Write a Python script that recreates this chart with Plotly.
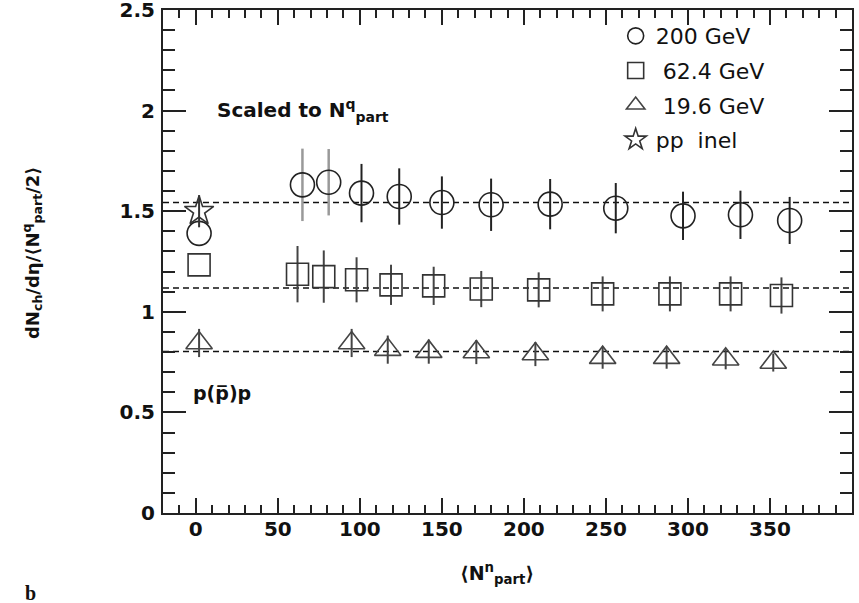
import plotly.graph_objects as go

# ---------------- data ----------------
x_200 = [2, 65, 81, 101, 124, 150, 180, 216, 256, 297, 332, 362]
y_200 = [1.39, 1.631, 1.644, 1.59, 1.573, 1.543, 1.532, 1.535, 1.515, 1.477, 1.482, 1.454]
e_200 = [0.0, 0.18, 0.165, 0.145, 0.14, 0.13, 0.13, 0.125, 0.125, 0.12, 0.12, 0.117]

x_624 = [2, 62, 78, 98, 119, 145, 174, 209, 248, 289, 326, 357]
y_624 = [1.233, 1.187, 1.175, 1.159, 1.134, 1.129, 1.113, 1.109, 1.089, 1.089, 1.089, 1.081]
e_624 = [0.0, 0.14, 0.13, 0.112, 0.10, 0.095, 0.09, 0.087, 0.087, 0.087, 0.087, 0.09]

x_196 = [2, 95, 117, 142, 171, 207, 248, 287, 323, 352]
y_196 = [0.845, 0.845, 0.812, 0.802, 0.80, 0.79, 0.772, 0.772, 0.764, 0.748]
e_196 = [0.07, 0.07, 0.07, 0.06, 0.06, 0.06, 0.055, 0.055, 0.05, 0.045]

x_pp = [2]
y_pp = [1.50]
e_pp = [0.08]

ref_levels = [1.543, 1.118, 0.803]

x_ticks = [0, 50, 100, 150, 200, 250, 300, 350]
y_ticks = [0, 0.5, 1, 1.5, 2, 2.5]
y_ticktext = ["0", "0.5", "1", "1.5", "2", "2.5"]

# ---------------- style ----------------
FONT = "DejaVu Sans"
dark = "#222222"
X_RANGE = [-20, 400]
Y_RANGE = [0, 2.5]

fig = go.Figure()

# reference dashed lines
for lv in ref_levels:
    fig.add_shape(type="line", xref="paper", x0=0, x1=1, yref="y", y0=lv, y1=lv,
                  line=dict(color="#111111", width=1.5, dash="6px,4px"), layer="below")


def add_errors(x, y, e, color, thick=2):
    fig.add_trace(go.Scatter(
        x=x, y=y, mode="markers", marker=dict(size=1, opacity=0),
        error_y=dict(type="data", array=e, symmetric=True, color=color,
                     thickness=thick, width=0),
        showlegend=False, hoverinfo="skip"))


def add_markers(x, y, name, symbol, size, color):
    fig.add_trace(go.Scatter(
        x=x, y=y, mode="markers", name=name, legendgroup=name,
        marker=dict(symbol=symbol, size=size, color=color,
                    line=dict(color=color, width=1.6))))


# 200 GeV: first two error bars lighter grey
add_errors(x_200[1:3], y_200[1:3], e_200[1:3], "#999999", 2.5)
add_errors(x_200[3:], y_200[3:], e_200[3:], dark)
add_markers(x_200, y_200, "200 GeV", "circle-open", 24, dark)

add_errors(x_624, y_624, e_624, "#444444")
add_markers(x_624, y_624, "\u00a062.4 GeV", "square-open", 22, "#333333")

add_errors(x_196, y_196, e_196, "#444444")
add_markers(x_196, y_196, "\u00a019.6 GeV", "triangle-up-open", 23, "#444444")

add_errors(x_pp, y_pp, e_pp, "#333333")
add_markers(x_pp, y_pp, "pp\u00a0\u00a0inel", "star-open", 22, "#333333")

# invisible trace hosting the mirrored (top / right) axes
fig.add_trace(go.Scatter(x=[X_RANGE[0]], y=[Y_RANGE[0]], xaxis="x2", yaxis="y2",
                         mode="markers", marker=dict(size=1, opacity=0),
                         showlegend=False, hoverinfo="skip"))

# ---------------- annotations ----------------
annots = [
    dict(text="<b>Scaled to N<sup>q</sup><sub>part</sub></b>", x=0.0755, y=0.80,
         xanchor="left", yanchor="middle", font=dict(size=20, family=FONT, color="#111")),
    dict(text="<b>p(p\u0305)p</b>", x=0.040, y=0.238,
         xanchor="left", yanchor="middle", font=dict(size=19, family=FONT, color="#111")),
    dict(text="<b>b</b>", x=-0.193, y=-0.160, xanchor="center", yanchor="middle",
         font=dict(size=20, family="Liberation Serif", color="#111")),
    dict(text="<b>\u27e8N<sup>n</sup><sub>part</sub>\u27e9</b>", x=0.485, y=-0.121,
         xanchor="center", yanchor="middle", font=dict(size=19, family=FONT, color="#111")),
    dict(text="<b>dN<sub>ch</sub>/d\u03b7/\u27e8N<sup>q</sup><sub>part</sub>/2\u27e9</b>",
         x=-0.19, y=0.517, xanchor="center", yanchor="middle", textangle=-90,
         font=dict(size=18, family=FONT, color="#111")),
]
for a in annots:
    a.update(xref="paper", yref="paper", showarrow=False)

tickfont = dict(size=20, family=FONT, weight="bold", color="#111")
common = dict(ticks="inside", tickwidth=2, tickcolor="#222", showline=True,
              linecolor="#222", linewidth=2, mirror=False, showgrid=False, zeroline=False,
              automargin=False)

fig.update_layout(
    width=859, height=603,
    margin=dict(l=163, r=7, t=10, b=90, autoexpand=False),
    paper_bgcolor="white", plot_bgcolor="white",
    font=dict(family=FONT, color="#111"),
    annotations=annots,
    showlegend=True,
    legend=dict(x=0.657, y=0.99, xanchor="left", yanchor="top",
                bgcolor="rgba(0,0,0,0)", borderwidth=0,
                font=dict(size=22, family=FONT, color="#111"),
                tracegroupgap=3, itemsizing="trace"),
    xaxis=dict(range=X_RANGE, tickvals=x_ticks, ticklen=15, tickfont=tickfont,
               ticklabelstandoff=-3, ticklabeloverflow="allow",
               minor=dict(dtick=10, tick0=0, ticks="inside", ticklen=8, tickwidth=1.5,
                          tickcolor="#222", showgrid=False), **common),
    yaxis=dict(range=Y_RANGE, tickvals=y_ticks, ticktext=y_ticktext, ticklen=23,
               tickfont=tickfont, ticklabelstandoff=2, ticklabeloverflow="allow",
               minor=dict(dtick=0.1, tick0=0, ticks="inside", ticklen=12, tickwidth=1.5,
                          tickcolor="#222", showgrid=False), **common),
    xaxis2=dict(range=X_RANGE, overlaying="x", side="top", anchor="y2", tickvals=x_ticks,
                ticklen=15, showticklabels=False,
                minor=dict(dtick=10, tick0=0, ticks="inside", ticklen=8, tickwidth=1.5,
                           tickcolor="#222", showgrid=False), **common),
    yaxis2=dict(range=Y_RANGE, overlaying="y", side="right", anchor="x2", tickvals=y_ticks,
                ticklen=23, showticklabels=False,
                minor=dict(dtick=0.1, tick0=0, ticks="inside", ticklen=12, tickwidth=1.5,
                           tickcolor="#222", showgrid=False), **common),
)

fig.write_html("out.html")
